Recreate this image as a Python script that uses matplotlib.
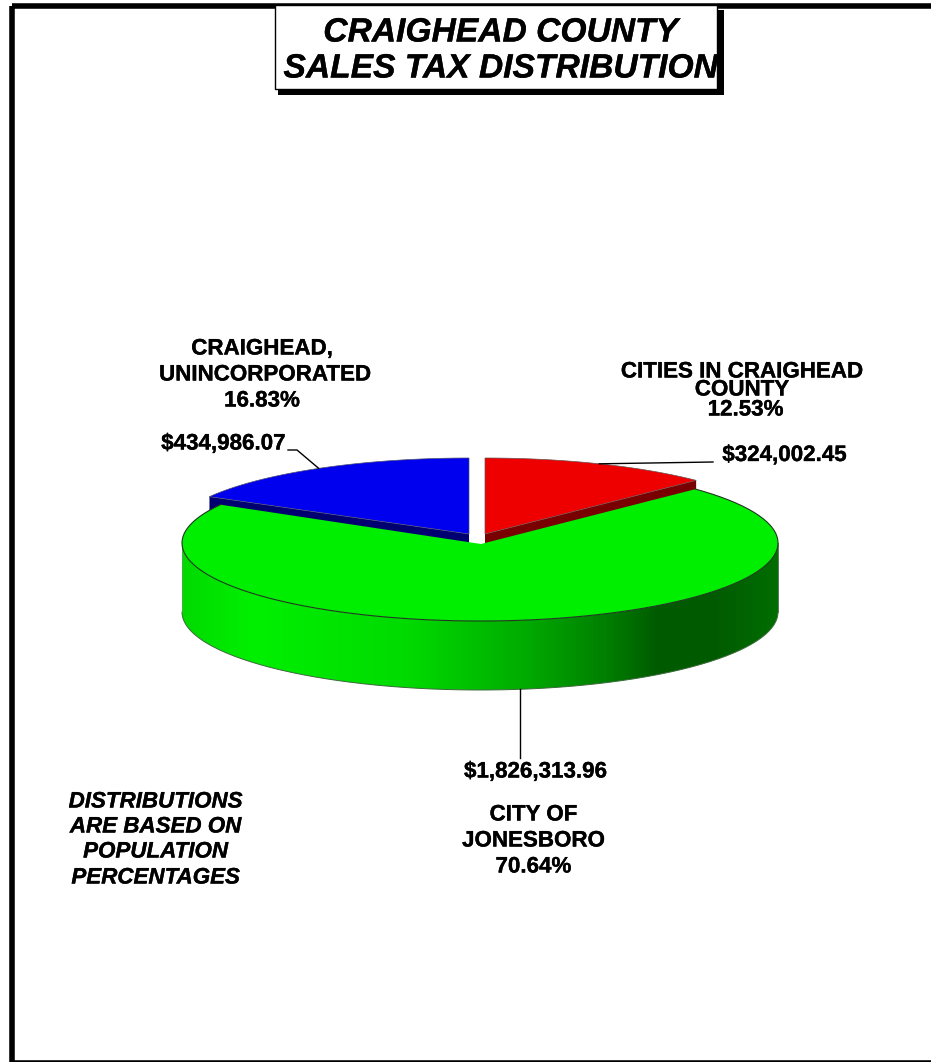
import numpy as np
import matplotlib
matplotlib.use("Agg")
import matplotlib.pyplot as plt
import matplotlib.patheffects as pe
from matplotlib.colors import LinearSegmentedColormap
from matplotlib.patches import Polygon, Rectangle

plt.rcParams['font.family'] = ['Liberation Sans', 'DejaVu Sans']

# data
title_lines = ["CRAIGHEAD COUNTY", "SALES TAX DISTRIBUTION"]
amounts = [324002.45, 1826313.96, 434986.07]
amount_labels = ["$324,002.45", "$1,826,313.96", "$434,986.07"]
note_lines = ["DISTRIBUTIONS", "ARE BASED ON", "POPULATION", "PERCENTAGES"]

# pie geometry in pixels
cx, cy = 480, 543
rx, ry = 298, 78
depth = 69
apex_green = (481, 544)
apex_red = (485, 534)
apex_blue = (469, 534)
ry_top = 76
green_skew = 1.2  # green cut sits a bit further round than the red one

fig = plt.figure(figsize=(9.31, 10.62), dpi=100)
ax = fig.add_axes([0, 0, 1, 1])
ax.set_xlim(0, 931)
ax.set_ylim(1062, 0)
ax.axis('off')

# outer frame runs off the right and bottom
ax.add_patch(Rectangle((12.2, 5.5), 940, 1057.2, fill=False, ec='black', lw=4, zorder=1))

# angles clockwise from 12 o'clock
total = sum(amounts)
fracs = [a / total * 360 for a in amounts]
red_end = fracs[0]
green_end = fracs[0] + fracs[1]
red_mid = red_end / 2
green_mid = red_end + fracs[1] / 2
blue_mid = green_end + fracs[2] / 2


def arc(x0, y0, a, b, w=rx, h=ry, n=200):
    t = np.radians(np.linspace(a, b, n))
    return np.column_stack([x0 + w * np.sin(t), y0 - h * np.cos(t)])


# cut faces of the two pulled out slices, green covers most of them
rim = arc(apex_red[0], apex_red[1], red_end, red_end, h=ry_top, n=1)[0]
ax.add_patch(Polygon([apex_red, rim, (rim[0], rim[1] + depth), (apex_red[0], apex_red[1] + depth)],
                     fc='#780000', ec='none', zorder=2))
rim = arc(apex_blue[0], apex_blue[1], green_end, green_end, h=ry_top, n=1)[0]
ax.add_patch(Polygon([apex_blue, rim, (rim[0], rim[1] + depth), (apex_blue[0], apex_blue[1] + depth)],
                     fc='#000070', ec='none', zorder=2))

# top faces
pts = np.vstack([[apex_red], arc(apex_red[0], apex_red[1], 0, red_end, h=ry_top)])
ax.add_patch(Polygon(pts, fc='#ee0000', ec='#6a5050', lw=0.5, zorder=3))
pts = np.vstack([[apex_blue], arc(apex_blue[0], apex_blue[1], green_end, 360, h=ry_top)])
ax.add_patch(Polygon(pts, fc='#0000ee', ec='#505070', lw=0.5, zorder=3))

# green wall with left to right shading
lower = arc(cx, cy, 90, 270)
wall = np.vstack([lower, (lower + [0, depth])[::-1]])
wall_patch = Polygon(wall, fc='none', ec='none', zorder=4)
ax.add_patch(wall_patch)
stops = [(0.0, '#00da00'), (0.12, '#00f000'), (0.38, '#00da00'), (0.58, '#00aa00'),
         (0.72, '#007c00'), (0.80, '#005a00'), (0.90, '#005c00'), (1.0, '#006e00')]
cmap = LinearSegmentedColormap.from_list('wall', stops, N=1024)
img = ax.imshow(np.linspace(0, 1, 596).reshape(1, -1), cmap=cmap, aspect='auto',
                interpolation='bilinear', interpolation_stage='rgba',
                extent=(cx - rx, cx + rx, cy + ry + depth + 1, cy), zorder=4)
img.set_clip_path(wall_patch)
ax.set_xlim(0, 931)
ax.set_ylim(1062, 0)
ax.plot(*(lower + [0, depth]).T, color='#3c6a3c', lw=0.7, zorder=5)
ax.plot([cx - rx, cx - rx], [cy, cy + depth], color='#60a060', lw=0.5, zorder=5)
ax.plot([cx + rx, cx + rx], [cy, cy + depth], color='#204020', lw=0.5, zorder=5)

# green top
top_arc = arc(cx, cy, red_end + green_skew, green_end)
pts = np.vstack([[apex_green], top_arc])
ax.add_patch(Polygon(pts, fc='#00ee00', ec='none', zorder=6))
ax.plot(*top_arc.T, color='#203820', lw=0.8, zorder=7)

# leader lines
p = arc(apex_red[0], apex_red[1], red_mid, red_mid, h=ry_top, n=1)[0]
ax.plot([p[0], 713], [p[1], 462], color='black', lw=1, zorder=8)
p = arc(apex_blue[0], apex_blue[1], blue_mid, blue_mid, h=ry_top, n=1)[0]
ax.plot([p[0], 297, 288], [p[1], 450, 450], color='black', lw=1, zorder=8)
p = arc(cx, cy + depth, green_mid, green_mid, n=1)[0]
ax.plot([p[0], p[0]], [p[1], 758], color='black', lw=1, zorder=8)

# title box with shadow
heavy = [pe.withStroke(linewidth=0.25, foreground='black')]
ax.add_patch(Rectangle((278, 10), 446, 85, fc='black', ec='none', zorder=9))
ax.add_patch(Rectangle((274.5, 5), 442, 84, fc='white', ec='black', lw=1, zorder=10))
ax.text(500.5, 33, title_lines[0], fontsize=24.2, fontweight='bold', style='italic',
        ha='center', va='center', zorder=11, path_effects=heavy)
ax.text(500.5, 69, title_lines[1], fontsize=24.2, fontweight='bold', style='italic',
        ha='center', va='center', zorder=11, path_effects=heavy)

lab = dict(fontsize=16.1, fontweight='bold', ha='center', va='center', zorder=12, path_effects=heavy)
ax.text(262, 349, "CRAIGHEAD,", **lab)
ax.text(265, 375, "UNINCORPORATED", **lab)
ax.text(262, 401, "16.83%", **lab)
ax.text(742, 372, "CITIES IN CRAIGHEAD", **lab)
ax.text(742, 390, "COUNTY", **lab)
ax.text(745.5, 410, "12.53%", **lab)
ax.text(533.5, 815, "CITY OF", **lab)
ax.text(533.5, 841, "JONESBORO", **lab)
ax.text(533.5, 867, "70.64%", **lab)
ax.text(784.5, 455.5, amount_labels[0], **lab)
ax.text(535.5, 772, amount_labels[1], **lab)
ax.text(223.5, 444, amount_labels[2], **lab)

for y, s in zip([802, 827, 852, 878], note_lines):
    ax.text(155.5, y, s, style='italic', **lab)

fig.savefig("out.png", dpi=100)
